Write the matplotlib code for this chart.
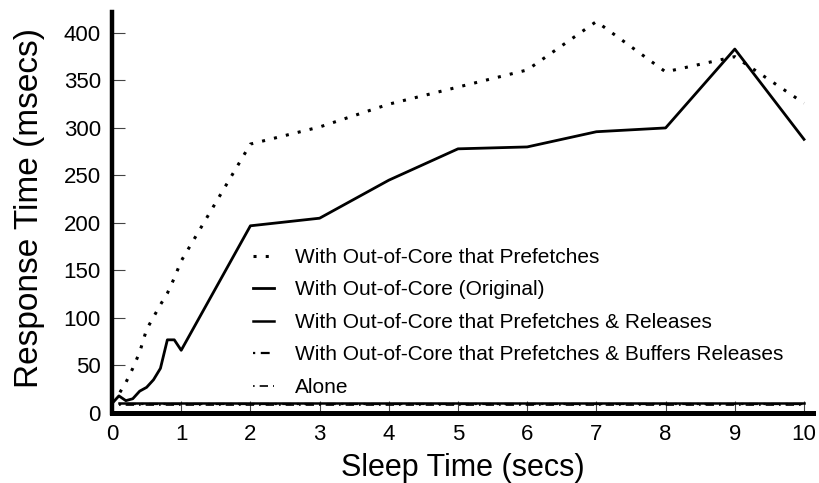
import numpy as np
import matplotlib
matplotlib.use('Agg')
import matplotlib.pyplot as plt

plt.rcParams['font.family'] = ['Liberation Sans', 'DejaVu Sans']

# sleep time (secs)
x_fine = [0, 0.1, 0.2, 0.3, 0.4, 0.5, 0.6, 0.7, 0.8, 0.9, 1, 2, 3, 4, 5, 6, 7, 8, 9, 10]
x_flat = [0.1, 0.2, 0.3, 0.4, 0.5, 0.6, 0.7, 0.8, 0.9, 1, 2, 3, 4, 5, 6, 7, 8, 9, 10]

# response time (msecs)
prefetches = [12, 20, 32, 47, 64, 88, 101, 114, 126, 142, 160,
              283, 301, 325, 343, 361, 412, 359, 375, 326]
original = [10, 18, 13, 15, 23, 27, 35, 47, 77, 77, 66,
            197, 205, 245, 278, 280, 296, 300, 383, 288]
pf_releases = [10] * len(x_flat)
pf_buffers = [9] * len(x_flat)
alone = [8.5] * len(x_flat)

labels = ['With Out-of-Core that Prefetches',
          'With Out-of-Core (Original)',
          'With Out-of-Core that Prefetches & Releases',
          'With Out-of-Core that Prefetches & Buffers Releases',
          'Alone']

fig = plt.figure(figsize=(8.19, 4.83), dpi=100)
ax = fig.add_axes([112 / 819, 70 / 483, 701 / 819, 401 / 483])

ax.plot(x_fine, prefetches, color='black', lw=2.2, linestyle=(0, (1, 3)), label=labels[0])
ax.plot(x_fine, original, color='black', lw=2.0, label=labels[1])
ax.plot(x_flat, pf_releases, color='black', lw=1.8, label=labels[2])
ax.plot(x_flat, pf_buffers, color='black', lw=1.6, linestyle=(0, (1, 2.5, 4, 2.5)), label=labels[3])
ax.plot(x_flat, alone, color='black', lw=1.2, linestyle=(0, (1, 3, 5, 3)), label=labels[4])

ax.set_xlim(0, 10.13)
ax.set_ylim(0, 422)
ax.set_xticks(np.arange(0, 11, 1))
ax.set_yticks(np.arange(0, 401, 50))

ax.spines['top'].set_visible(False)
ax.spines['right'].set_visible(False)
ax.spines['left'].set_linewidth(3.2)
ax.spines['bottom'].set_linewidth(3.6)
ax.tick_params(direction='in', length=9, width=0.8, color='#444444',
               labelsize=16, pad=8)

ax.set_xlabel('Sleep Time (secs)', fontsize=22, labelpad=6)
ax.set_ylabel('Response Time (msecs)', fontsize=24)
ax.yaxis.set_label_coords(-0.096, 0.511)

ax.legend(loc='lower left', bbox_to_anchor=(0.201, 0.04), frameon=False,
          fontsize=15, handlelength=1.0, handletextpad=1.0, labelspacing=0.65,
          borderpad=0, borderaxespad=0)

fig.savefig('out.png', dpi=100)
